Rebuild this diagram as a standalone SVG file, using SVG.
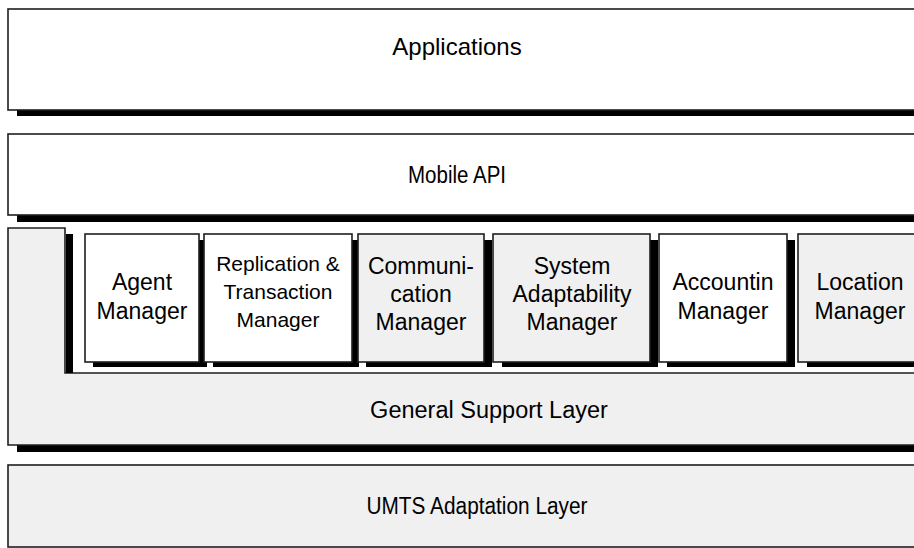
<svg xmlns="http://www.w3.org/2000/svg" width="914" height="548" viewBox="0 0 914 548">
  <style>
    .box { stroke: #1e1e1e; stroke-width: 1.6; }
    .white { fill: #ffffff; }
    .grey { fill: #f0f0f0; }
    .shadow { fill: #000000; }
    text { font-family: "Liberation Sans", Arial, sans-serif; fill: #000000; text-anchor: middle; }
    .mgr { font-size: 23px; }
    .mgr-small { font-size: 21px; }
  </style>

  <rect x="0" y="0" width="914" height="548" fill="#ffffff"/>

  <!-- Applications layer -->
  <g id="applications">
    <rect class="shadow" x="17" y="110" width="900" height="6"/>
    <rect class="box white" x="8" y="9" width="910" height="101"/>
    <text x="457" y="55" font-size="24">Applications</text>
  </g>

  <!-- Mobile API layer -->
  <g id="mobile-api">
    <rect class="shadow" x="17" y="215" width="900" height="7"/>
    <rect class="box white" x="8" y="134" width="910" height="81"/>
    <text x="457" y="183" font-size="23" textLength="98" lengthAdjust="spacingAndGlyphs">Mobile API</text>
  </g>

  <!-- General Support Layer: notched outline holding the managers -->
  <g id="general-support-layer">
    <rect class="shadow" x="17" y="445" width="900" height="7"/>
    <path class="box grey" d="M8,228 H65 V373 H918 V445 H8 Z"/>
    <rect class="shadow" x="66" y="234" width="7" height="139"/>
    <text x="489" y="418" font-size="23.5">General Support Layer</text>
  </g>

  <!-- Managers -->
  <g id="agent-manager">
    <rect class="shadow" x="93" y="240" width="114" height="127"/>
    <rect class="box white" x="85" y="234" width="114" height="128"/>
    <text class="mgr" x="142" y="290">Agent</text>
    <text class="mgr" x="142" y="319">Manager</text>
  </g>

  <g id="replication-transaction-manager">
    <rect class="shadow" x="213" y="240" width="146" height="127"/>
    <rect class="box white" x="204" y="234" width="148" height="128"/>
    <text class="mgr-small" x="278" y="271">Replication &amp;</text>
    <text class="mgr-small" x="278" y="299">Transaction</text>
    <text class="mgr-small" x="278" y="327">Manager</text>
  </g>

  <g id="communication-manager">
    <rect class="shadow" x="366" y="240" width="126" height="127"/>
    <rect class="box grey" x="358" y="234" width="126" height="128"/>
    <text class="mgr" x="421" y="274">Communi-</text>
    <text class="mgr" x="421" y="302">cation</text>
    <text class="mgr" x="421" y="330">Manager</text>
  </g>

  <g id="system-adaptability-manager">
    <rect class="shadow" x="502" y="240" width="156" height="127"/>
    <rect class="box grey" x="493" y="234" width="157" height="128"/>
    <text class="mgr" x="572" y="274">System</text>
    <text class="mgr" x="572" y="302">Adaptability</text>
    <text class="mgr" x="572" y="330">Manager</text>
  </g>

  <g id="accounting-manager">
    <rect class="shadow" x="667" y="240" width="128" height="127"/>
    <rect class="box white" x="659" y="234" width="128" height="128"/>
    <text class="mgr" x="723" y="290">Accountin</text>
    <text class="mgr" x="723" y="319">Manager</text>
  </g>

  <g id="location-manager">
    <rect class="shadow" x="807" y="240" width="120" height="127"/>
    <rect class="box grey" x="798" y="234" width="124" height="128"/>
    <text class="mgr" x="860" y="290">Location</text>
    <text class="mgr" x="860" y="319">Manager</text>
  </g>

  <!-- UMTS Adaptation Layer -->
  <g id="umts-adaptation-layer">
    <rect class="box grey" x="8" y="465" width="910" height="82"/>
    <text x="477" y="514" font-size="23" textLength="221" lengthAdjust="spacingAndGlyphs">UMTS Adaptation Layer</text>
  </g>
</svg>
